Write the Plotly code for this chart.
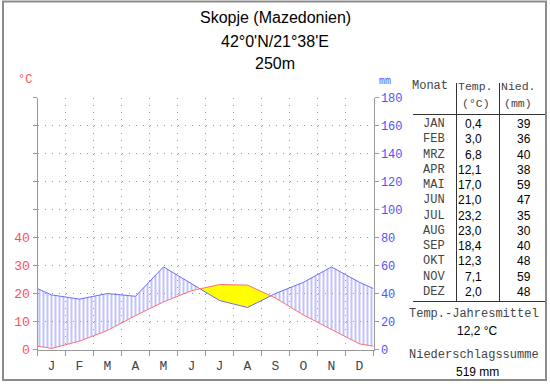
import numpy as np
import plotly.graph_objects as go

# ---- data ----
station = "Skopje (Mazedonien)"
coords = "42°0'N/21°38'E"
elevation = "250m"
month_letters = ["J", "F", "M", "A", "M", "J", "J", "A", "S", "O", "N", "D"]
month_abbr = ["JAN", "FEB", "MRZ", "APR", "MAI", "JUN", "JUL", "AUG", "SEP", "OKT", "NOV", "DEZ"]
temp_c = [0.4, 3.0, 6.8, 12.1, 17.0, 21.0, 23.2, 23.0, 18.4, 12.3, 7.1, 2.0]
precip_mm = [39, 36, 40, 38, 59, 47, 35, 30, 40, 48, 59, 48]
temp_ticks = [0, 10, 20, 30, 40]
precip_ticks = [0, 20, 40, 60, 80, 100, 120, 140, 160, 180]

W, H = 550, 384
MM_PER_C = 2.0  # Walter-Lieth scale: 10 °C = 20 mm


def px(x):
    return x / W


def py(y):
    return 1 - y / H


# curve nodes: month centres plus wrapped edges
n = len(temp_c)
xn = [0.0] + [i + 0.5 for i in range(n)] + [float(n)]
t_edge = (temp_c[-1] + temp_c[0]) / 2
p_edge = (precip_mm[-1] + precip_mm[0]) / 2 / MM_PER_C
tn = [t_edge] + temp_c + [t_edge]
pn = [p_edge] + [p / MM_PER_C for p in precip_mm] + [p_edge]

# insert crossing points
xs, ts, ps = [], [], []
for i in range(len(xn) - 1):
    xs.append(xn[i]); ts.append(tn[i]); ps.append(pn[i])
    d0 = tn[i] - pn[i]
    d1 = tn[i + 1] - pn[i + 1]
    if d0 * d1 < 0:
        f = d0 / (d0 - d1)
        xc = xn[i] + f * (xn[i + 1] - xn[i])
        tc = tn[i] + f * (tn[i + 1] - tn[i])
        xs.append(xc); ts.append(tc); ps.append(tc)
xs.append(xn[-1]); ts.append(tn[-1]); ps.append(pn[-1])
xs = np.array(xs); ts = np.array(ts); ps = np.array(ps)

fig = go.Figure()
# humid area (precipitation above temperature): vertical hatching
fig.add_trace(go.Scatter(x=xs, y=ts, mode="lines", line=dict(width=0),
                         hoverinfo="skip", showlegend=False))
fig.add_trace(go.Scatter(x=xs, y=np.maximum(ts, ps), mode="lines", line=dict(width=0),
                         fill="tonexty", fillcolor="rgba(0,0,0,0)",
                         fillpattern=dict(shape="|", size=4, solidity=0.25,
                                          fgcolor="rgb(130,130,255)", bgcolor="rgba(0,0,0,0)",
                                          fillmode="replace"),
                         hoverinfo="skip", showlegend=False))
# arid area (temperature above precipitation): yellow
fig.add_trace(go.Scatter(x=xs, y=ps, mode="lines", line=dict(width=0),
                         hoverinfo="skip", showlegend=False))
fig.add_trace(go.Scatter(x=xs, y=np.maximum(ts, ps), mode="lines", line=dict(width=0),
                         fill="tonexty", fillcolor="#ffff00", hoverinfo="skip", showlegend=False))
fig.add_trace(go.Scatter(x=xs, y=ps, mode="lines", line=dict(color="#6c6cff", width=1),
                         showlegend=False))
fig.add_trace(go.Scatter(x=xs, y=ts, mode="lines", line=dict(color="#ff7070", width=1),
                         showlegend=False))
# anchor trace for the mm axis
fig.add_trace(go.Scatter(x=[0], y=[0], yaxis="y2", mode="markers", marker=dict(opacity=0),
                         hoverinfo="skip", showlegend=False))

x0, x1 = 37.5, 373.5
yb, yt = 349.5, 97.5
mono = "Liberation Mono"
grid_dash = "1px,6px"

fig.update_layout(
    width=W, height=H,
    margin=dict(l=0, r=0, t=0, b=0, pad=0, autoexpand=False),
    paper_bgcolor="white", plot_bgcolor="rgba(0,0,0,0)",
    xaxis=dict(
        domain=[px(x0), px(x1)], range=[0, 12], fixedrange=True, automargin=False,
        tickvals=[i + 0.5 for i in range(12)], ticktext=month_letters, ticks="",
        ticklabelstandoff=4,
        tickfont=dict(family=mono, size=13, color="#444"),
        showgrid=False, zeroline=False,
        showline=True, linecolor="#999", linewidth=1,
        minor=dict(tickmode="linear", tick0=0, dtick=1, ticks="outside", ticklen=5,
                   tickcolor="#999", showgrid=True, gridcolor="#9a9a9a",
                   griddash=grid_dash, gridwidth=1),
    ),
    yaxis=dict(
        domain=[py(yb), py(yt)], range=[0, 90], fixedrange=True, automargin=False,
        tickvals=list(range(0, 91, 10)),
        ticktext=[str(v) if v in temp_ticks else "" for v in range(0, 91, 10)],
        ticks="outside", ticklen=4, tickcolor="#999",
        tickfont=dict(family=mono, size=13, color="#ff5050"),
        showgrid=True, gridcolor="#9a9a9a", griddash=grid_dash, gridwidth=1,
        zeroline=False, showline=True, linecolor="#999", linewidth=1,
    ),
    yaxis2=dict(
        overlaying="y", side="right", anchor="x", range=[0, 180], fixedrange=True,
        automargin=False,
        tickvals=precip_ticks, ticks="outside", ticklen=4, tickcolor="#999",
        tickfont=dict(family=mono, size=12, color="#5050ff"),
        showgrid=False, zeroline=False, showline=True, linecolor="#999", linewidth=1,
    ),
)

ann = []


def text(x, y, s, size=12, color="#000", family="Liberation Sans", xanchor="center"):
    ann.append(dict(x=px(x), y=py(y), xref="paper", yref="paper", text=s, showarrow=False,
                    xanchor=xanchor, yanchor="middle",
                    font=dict(family=family, size=size, color=color)))


# titles
text(275, 17, station, size=16)
text(275, 41, coords, size=16)
text(275, 64, elevation, size=16)
text(25, 80, "°C", size=12, color="#ff5050", family=mono)
text(385, 81, "mm", size=10, color="#5050ff", family=mono)

# table
gray = "#444"
text(430, 86, "Monat", size=12, color=gray, family=mono)
text(475, 86, "Temp.", size=11.5, color=gray, family=mono)
text(476, 103, "(°C)", size=11.5, color=gray, family=mono)
text(518, 86, "Nied.", size=11.5, color=gray, family=mono)
text(518, 103, "(mm)", size=11.5, color=gray, family=mono)
for i in range(12):
    yy = 124 + i * 15.25
    text(447, yy, month_abbr[i], size=12, color=gray, family=mono, xanchor="right")
    text(484, yy, f"{temp_c[i]:.1f}".replace(".", ","), size=12, xanchor="right")
    text(533, yy, f"{precip_mm[i]}", size=12, xanchor="right")

mean_t = sum(temp_c) / len(temp_c)
sum_p = sum(precip_mm)
text(474, 314, "Temp.-Jahresmittel", size=12, color=gray, family=mono)
text(477, 331, f"{mean_t:.1f}".replace(".", ",") + " °C", size=12)
text(474, 355, "Niederschlagssumme", size=12, color=gray, family=mono)
text(477, 372, f"{sum_p} mm", size=12)

fig.update_layout(annotations=ann)

shapes = []


def line(xa, ya, xb, yb_, color="#333", width=1):
    shapes.append(dict(type="line", xref="paper", yref="paper", x0=px(xa), y0=py(ya),
                       x1=px(xb), y1=py(yb_), line=dict(color=color, width=width)))


line(456.5, 83, 456.5, 301)
line(499.5, 83, 499.5, 301)
line(413, 114.5, 547, 114.5)
line(413, 301.5, 547, 301.5)
shapes.append(dict(type="rect", xref="paper", yref="paper", x0=px(3), y0=py(380),
                   x1=px(546), y1=py(1.5), line=dict(color="#8c8c8c", width=2)))
fig.update_layout(shapes=shapes)

fig.write_html("out.html", config={"displayModeBar": False},
               post_script="document.body.style.margin='0';document.body.style.padding='0';"
                           "document.body.style.overflow='hidden';")
